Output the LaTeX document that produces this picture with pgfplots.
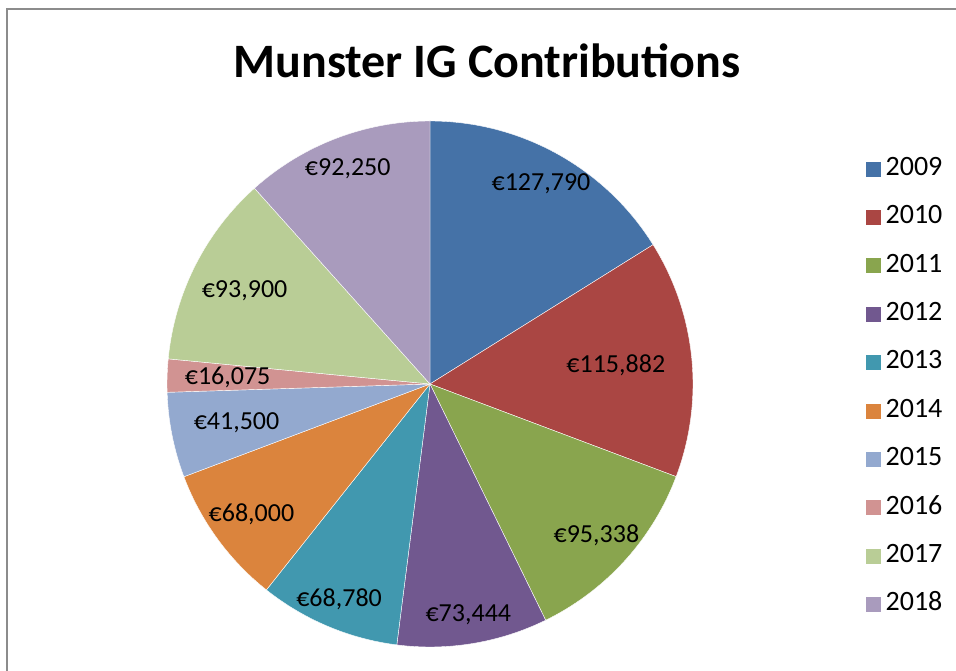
\documentclass[border=0pt]{standalone}
\usepackage{pgfplots}
\usepackage{pgfplotstable}
\pgfplotsset{compat=1.18}
\usepackage{fontspec}
\setmainfont{Carlito}

\definecolor{c0}{HTML}{4572A7}
\definecolor{c1}{HTML}{AA4643}
\definecolor{c2}{HTML}{89A54E}
\definecolor{c3}{HTML}{71588F}
\definecolor{c4}{HTML}{4198AF}
\definecolor{c5}{HTML}{DB843D}
\definecolor{c6}{HTML}{93A9CF}
\definecolor{c7}{HTML}{D19392}
\definecolor{c8}{HTML}{B9CD96}
\definecolor{c9}{HTML}{A99BBD}

% year, contribution (EUR), label distance as share of radius
\pgfplotstableread{
year value rf
2009 127790 0.87
2010 115882 0.71
2011 95338  0.855
2012 73444  0.89
2013 68780  0.89
2014 68000  0.84
2015 41500  0.75
2016 16075  0.77
2017 93900  0.79
2018 92250  0.875
}\piedata

\pgfplotsset{legsq/.style={legend image code/.code={\fill (0pt,-7pt) rectangle (14pt,7pt);}}}

\begin{document}
\begin{tikzpicture}
% slice angles from the values (clockwise from the top)
\pgfplotstablegetrowsof{\piedata}
\pgfmathtruncatemacro\lastrow{\pgfplotsretval-1}
\xdef\total{0}
\foreach \i in {0,...,\lastrow}{
  \pgfplotstablegetelem{\i}{value}\of\piedata
  \xdef\total{\fpeval{\total+\pgfplotsretval}}
}
\xdef\cur{90}
\foreach \i in {0,...,\lastrow}{
  \pgfplotstablegetelem{\i}{value}\of\piedata \edef\v{\pgfplotsretval}
  \pgfplotstablegetelem{\i}{rf}\of\piedata \edef\r{\pgfplotsretval}
  \expandafter\xdef\csname sa\i\endcsname{\cur}
  \xdef\cur{\fpeval{\cur-360*\v/\total}}
  \expandafter\xdef\csname ea\i\endcsname{\cur}
  \expandafter\xdef\csname ma\i\endcsname{\fpeval{(\csname sa\i\endcsname+\cur)/2}}
  \expandafter\xdef\csname lr\i\endcsname{\fpeval{\r*263}}
  \expandafter\xdef\csname val\i\endcsname{\v}
}
\begin{axis}[
    x=1pt, y=1pt,
    xmin=0, xmax=956, ymin=0, ymax=670,
    hide axis, clip=false,
    legend cell align=left,
    legend style={at={(axis cs:863,515)}, anchor=north west, draw=none, fill=none,
      font=\fontsize{28}{32}\selectfont,
      nodes={inner sep=0pt, text height=18pt, text depth=5pt},
      row sep=25.4pt,
      /tikz/every odd column/.append style={column sep=5pt}},
]
\pgfplotsinvokeforeach{0,...,9}{
  \fill[c#1, draw=white, line width=0.4pt] (axis cs:430,286) -- ++(\csname sa#1\endcsname:263pt)
    arc[start angle=\csname sa#1\endcsname, end angle=\csname ea#1\endcsname, radius=263pt] -- cycle;
}
\pgfplotsinvokeforeach{0,...,9}{
  \path (axis cs:430,286) ++(\csname ma#1\endcsname:\csname lr#1\endcsname pt)
    node[font=\fontsize{26}{30}\selectfont]
    {€\pgfmathprintnumber[fixed, precision=0, 1000 sep={,}, assume math mode=true]{\csname val#1\endcsname}};
}
\node[font=\fontsize{48}{54}\selectfont\bfseries] at (axis cs:487,609) {Munster IG Contributions};
\draw[black!45, line width=1.5pt] (axis cs:7,-10) |- (axis cs:970,661);

\addlegendimage{legsq, c0}\addlegendentry{2009}
\addlegendimage{legsq, c1}\addlegendentry{2010}
\addlegendimage{legsq, c2}\addlegendentry{2011}
\addlegendimage{legsq, c3}\addlegendentry{2012}
\addlegendimage{legsq, c4}\addlegendentry{2013}
\addlegendimage{legsq, c5}\addlegendentry{2014}
\addlegendimage{legsq, c6}\addlegendentry{2015}
\addlegendimage{legsq, c7}\addlegendentry{2016}
\addlegendimage{legsq, c8}\addlegendentry{2017}
\addlegendimage{legsq, c9}\addlegendentry{2018}
\end{axis}
\pgfresetboundingbox
\useasboundingbox (0,0) rectangle (956pt,670pt);
\end{tikzpicture}
\end{document}
